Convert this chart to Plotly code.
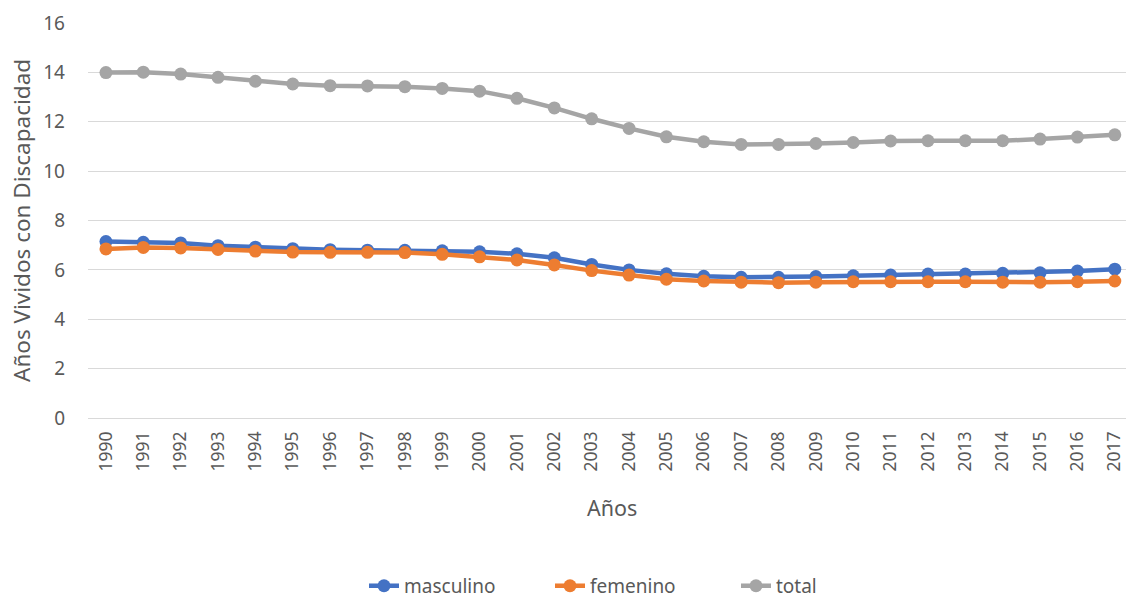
import plotly.graph_objects as go

years = [str(y) for y in range(1990, 2018)]
masculino = [7.15, 7.12, 7.09, 6.98, 6.92, 6.86, 6.82, 6.80, 6.79, 6.77, 6.73, 6.65, 6.49, 6.22,
             6.00, 5.84, 5.74, 5.70, 5.70, 5.73, 5.76, 5.79, 5.83, 5.83, 5.86, 5.88, 5.95, 6.03]
femenino = [6.85, 6.91, 6.89, 6.83, 6.76, 6.72, 6.71, 6.71, 6.70, 6.63, 6.53, 6.40, 6.20, 5.97,
            5.79, 5.62, 5.55, 5.50, 5.48, 5.50, 5.52, 5.52, 5.52, 5.52, 5.50, 5.50, 5.52, 5.55]
total = [13.99, 14.01, 13.93, 13.80, 13.64, 13.53, 13.46, 13.45, 13.42, 13.35, 13.24, 12.95, 12.56, 12.12,
         11.73, 11.39, 11.19, 11.08, 11.08, 11.12, 11.16, 11.22, 11.23, 11.23, 11.23, 11.30, 11.38, 11.47]

series = [("masculino", masculino, "#4472C4"),
          ("femenino", femenino, "#ED7D31"),
          ("total", total, "#A5A5A5")]

font = "Noto Sans"
grey = "#595959"
fig = go.Figure()
xs = list(range(len(years)))
for name, vals, col in series:
    fig.add_trace(go.Scatter(x=xs, y=vals, name=name, mode="lines+markers",
                             line=dict(color=col, width=4.5),
                             marker=dict(color=col, size=13), cliponaxis=False))

fig.update_layout(
    width=1126, height=599,
    margin=dict(l=88, r=0, t=23, b=181, autoexpand=False),
    plot_bgcolor="white", paper_bgcolor="white",
    font=dict(family=font, size=16, color=grey),
    showlegend=True,
    legend=dict(orientation="h", x=(364 - 88) / 1038, xanchor="left", y=-0.425, yanchor="middle",
                font=dict(size=19, color=grey), entrywidth=141, entrywidthmode="pixels"),
    xaxis=dict(range=[-0.48, 27.3], tickmode="array", tickvals=xs, ticktext=years,
               tickangle=-90, showgrid=False, zeroline=False, showline=False,
               ticks="", tickfont=dict(size=17.5, color=grey), ticklabelstandoff=9,
               ticklabeloverflow="allow", automargin=False),
    yaxis=dict(range=[0, 16], dtick=2, showgrid=True, gridcolor="#D9D9D9", gridwidth=1.3,
               zeroline=True, zerolinecolor="#D9D9D9", zerolinewidth=1.3,
               showline=False, ticks="", tickfont=dict(size=19, color=grey),
               ticklabelstandoff=22, automargin=False),
    annotations=[
        dict(text="Años", xref="paper", yref="paper", x=(612 - 88) / 1038, y=-(508 - 418) / 395,
             xanchor="center", yanchor="middle", showarrow=False,
             font=dict(size=21.5, color=grey)),
        dict(text="Años Vividos con Discapacidad", xref="paper", yref="paper",
             x=-(88 - 21) / 1038, y=(418 - 221) / 395, xanchor="center", yanchor="middle",
             textangle=-90, showarrow=False, font=dict(size=22.5, color=grey)),
    ],
)

fig.write_html("out.html", config={"displayModeBar": False},
               post_script="document.body.style.margin='0';document.body.style.overflow='hidden';")
